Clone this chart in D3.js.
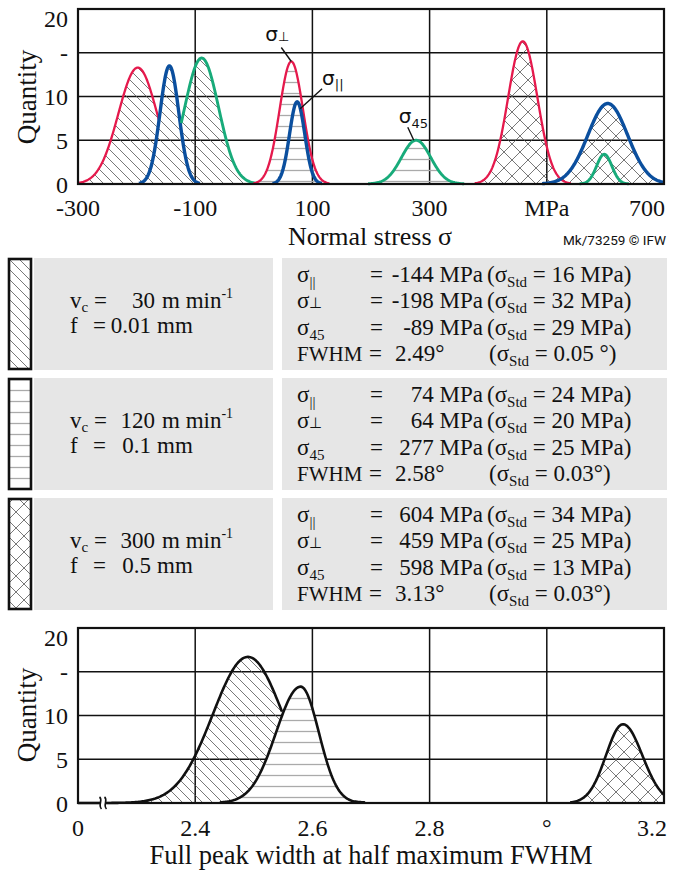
<!DOCTYPE html>
<html>
<head>
<meta charset="utf-8">
<script src="https://cdn.jsdelivr.net/npm/d3@7"></script>
<style>
  body { margin: 0; background: #fff; }
  svg { display: block; }
  text { font-family: "Liberation Serif", serif; fill: #111; }
</style>
</head>
<body>
<script>
// ---- values ----
const stressTicks = [-300, -100, 100, 300, 500, 700];
const stressTickLabels = ["-300", "-100", "100", "300", "MPa", "700"];
const quantityTicks = [0, 5, 10, 15, 20];
const quantityTickLabels = ["0", "5", "10", "-", "20"];
const fwhmTicks = [2.2, 2.4, 2.6, 2.8, 3.0, 3.2];
const fwhmTickLabels = ["0", "2.4", "2.6", "2.8", "°", "3.2"];

const cuttingSpeed = ["30", "120", "300"];
const feed = ["0.01", "0.1", "0.5"];
const hatch = ["diag", "horiz", "cross"];

// mean, standard deviation (table) per cutting condition
const sigmaPar = [-144, 74, 604];
const sigmaParStd = [16, 24, 34];
const sigmaPerp = [-198, 64, 459];
const sigmaPerpStd = [32, 20, 25];
const sigma45 = [-89, 277, 598];
const sigma45Std = [29, 25, 13];
const fwhm = [2.49, 2.58, 3.13];
const fwhmStdText = ["0.05 °", "0.03°", "0.03°"];

// drawn curves in the upper chart: spread and peak height
const sigmaParSpread = [16, 13, 34];
const sigmaParPeak = [13.5, 9.4, 9.2];
const sigmaPerpSpread = [33, 20, 25];
const sigmaPerpPeak = [13.3, 14.0, 16.3];
const sigma45Spread = [29, 25, 13];
const sigma45Peak = [14.4, 5.0, 3.4];
// drawn curves in the lower chart: left / right spread and height
const fwhmSpreadLeft = [0.06, 0.042, 0.029];
const fwhmSpreadRight = [0.06, 0.031, 0.033];
const fwhmPeak = [16.7, 13.3, 9.0];

const red = "#e5194c", blue = "#0b4f9e", green = "#18ab7a";

const svg = d3.select("body").append("svg")
  .attr("width", 683).attr("height", 870);

// hatch patterns
const defs = svg.append("defs");
defs.append("pattern").attr("id", "diag").attr("patternUnits", "userSpaceOnUse")
  .attr("width", 10).attr("height", 10)
  .append("path").attr("d", "M0,0L10,10M-2,8L2,12M8,-2L12,2")
  .attr("stroke", "#555").attr("stroke-width", 0.8);
defs.append("pattern").attr("id", "horiz").attr("patternUnits", "userSpaceOnUse")
  .attr("width", 10).attr("height", 11)
  .append("path").attr("d", "M0,5.5H10")
  .attr("stroke", "#aaa").attr("stroke-width", 1.3);
const cp = defs.append("pattern").attr("id", "cross").attr("patternUnits", "userSpaceOnUse")
  .attr("width", 16).attr("height", 16);
cp.append("path").attr("d", "M0,0L16,16M-2,14L2,18M14,-2L18,2M0,16L16,0M-2,2L2,-2M14,18L18,14")
  .attr("stroke", "#555").attr("stroke-width", 0.8);

function gauss(x, m, sl, sr, p) {
  const s = x < m ? sl : sr;
  return p * Math.exp(-0.5 * ((x - m) / s) ** 2);
}

// ---------- frame + grid helpers ----------
function grid(x, y, xTicks, yTicks) {
  const g = svg.append("g");
  const [x0, x1] = x.range(), [y0, y1] = y.range();
  g.selectAll("line.vx").data(xTicks.slice(1, -1)).join("line")
    .attr("x1", d => x(d)).attr("x2", d => x(d)).attr("y1", y0).attr("y2", y1)
    .attr("stroke", "#111").attr("stroke-width", 1.5);
  g.selectAll("line.hy").data(yTicks.slice(1, -1)).join("line")
    .attr("x1", x0).attr("x2", x1).attr("y1", d => y(d)).attr("y2", d => y(d))
    .attr("stroke", "#111").attr("stroke-width", 1.5);
}
function frameBorder(x, y) {
  const [x0, x1] = x.range(), [y0, y1] = y.range();
  svg.append("rect").attr("x", x0).attr("y", y1).attr("width", x1 - x0).attr("height", y0 - y1)
    .attr("fill", "none").attr("stroke", "#111").attr("stroke-width", 2.2);
}
function yAxisLabels(y, cy) {
  svg.append("g").selectAll("text").data(quantityTicks).join("text")
    .attr("x", 68).attr("y", (d, i) => y(d) + (i === quantityTicks.length - 1 ? 9 : 0))
    .attr("dy", "0.36em")
    .attr("text-anchor", "end").attr("font-size", 24)
    .text((d, i) => quantityTickLabels[i]);
  svg.append("text").attr("transform", `translate(36,${cy}) rotate(-90)`)
    .attr("text-anchor", "middle").attr("font-size", 27).text("Quantity");
}

// ================= top chart =================
const xS = d3.scaleLinear().domain([-300, 700]).range([78, 664]);
const yS = d3.scaleLinear().domain([0, 20]).range([184, 9]);

const groups = [0, 1, 2].map(i => [
  { m: sigmaPerp[i], s: sigmaPerpSpread[i], p: sigmaPerpPeak[i], c: red, w: 2.3 },
  { m: sigmaPar[i], s: sigmaParSpread[i], p: sigmaParPeak[i], c: blue, w: 3.4, front: true },
  { m: sigma45[i], s: sigma45Spread[i], p: sigma45Peak[i], c: green, w: 2.9 }
]);
// in the first condition the red and green curves vanish behind the blue one
const hiddenBehind = [true, false, false];

const xs = d3.range(-300, 700.5, 1);
const area = d3.area().x(d => xS(d[0])).y0(yS(0)).y1(d => yS(d[1]))
  .defined(d => d[1] > 0.03);
const line = d3.line().x(d => xS(d[0])).y(d => yS(d[1])).defined(d => d[2]);

grid(xS, yS, stressTicks, quantityTicks);

groups.forEach((cs, gi) => {
  const env = xs.map(x => [x, d3.max(cs, c => gauss(x, c.m, c.s, c.s, c.p))]);
  svg.append("path").datum(env).attr("d", area).attr("fill", `url(#${hatch[gi]})`);
});
groups.forEach((cs, gi) => {
  cs.forEach(c => {
    const pts = xs.map(x => {
      const v = gauss(x, c.m, c.s, c.s, c.p);
      const others = d3.max(cs.filter(o => o !== c), o => gauss(x, o.m, o.s, o.s, o.p));
      let on = Math.abs(x - c.m) < 3.3 * c.s;
      if (hiddenBehind[gi] && !c.front && v < others) on = false;
      return [x, v, on];
    });
    svg.append("path").datum(pts).attr("d", line)
      .attr("fill", "none").attr("stroke", c.c).attr("stroke-width", c.w)
      .attr("stroke-linejoin", "round");
  });
});
frameBorder(xS, yS);

svg.append("g").selectAll("text").data(stressTicks).join("text")
  .attr("x", (d, i) => i === stressTicks.length - 1 ? xS(d) + 1 : xS(d))
  .attr("y", 216).attr("font-size", 24)
  .attr("text-anchor", (d, i) => i === stressTicks.length - 1 ? "end" : "middle")
  .text((d, i) => stressTickLabels[i]);
svg.append("text").attr("x", 370).attr("y", 245).attr("text-anchor", "middle")
  .attr("font-size", 26).text("Normal stress σ");
svg.append("text").attr("x", 666).attr("y", 245).attr("text-anchor", "end")
  .attr("font-size", 12.5).attr("textLength", 103).attr("lengthAdjust", "spacingAndGlyphs")
  .style("font-family", "Roboto, sans-serif").text("Mk/73259 © IFW");
yAxisLabels(yS, 97);

// annotations of the three stress directions
function tag(tx, ty, x1, y1, x2, y2, base, sub, subDy) {
  svg.append("line").attr("x1", x1).attr("y1", y1).attr("x2", x2).attr("y2", y2)
    .attr("stroke", "#111").attr("stroke-width", 1.4);
  const t = svg.append("text").attr("x", tx).attr("y", ty).attr("font-size", 20)
    .style("font-family", "DejaVu Sans, sans-serif").text(base);
  t.append("tspan").attr("font-size", 13).attr("dy", subDy).text(sub);
}
const perpPk = [xS(sigmaPerp[1]), yS(sigmaPerpPeak[1])];
tag(perpPk[0] - 26, perpPk[1] - 21, perpPk[0] - 10, perpPk[1] - 14, perpPk[0], perpPk[1], "σ", "⊥", 0);
const parPt = [xS(sigmaPar[1] + 5), yS(sigmaParPeak[1] - 0.8)];
tag(parPt[0] + 22, parPt[1] - 24, parPt[0] + 22, parPt[1] - 20, parPt[0], parPt[1], "σ", "||", 4);
const s45Pk = [xS(sigma45[1] - 4), yS(sigma45Peak[1])];
tag(s45Pk[0] - 15, s45Pk[1] - 17, s45Pk[0] - 6, s45Pk[1] - 13, s45Pk[0], s45Pk[1], "σ", "45", 5);

// ================= parameter table =================
const rowTop = i => 258 + 120 * i;
const fs = 23;
[0, 1, 2].forEach(i => {
  const y0 = rowTop(i);
  svg.append("rect").attr("x", 34).attr("y", y0).attr("width", 239).attr("height", 112).attr("fill", "#e6e6e6");
  svg.append("rect").attr("x", 282).attr("y", y0).attr("width", 385).attr("height", 112).attr("fill", "#e6e6e6");
  svg.append("rect").attr("x", 9).attr("y", y0 + 1).attr("width", 22).attr("height", 110)
    .attr("fill", "#fff");
  svg.append("rect").attr("x", 9).attr("y", y0 + 1).attr("width", 22).attr("height", 110)
    .attr("fill", `url(#${hatch[i]})`).attr("stroke", "#111").attr("stroke-width", 2.6);

  // cutting conditions
  const v = svg.append("text").attr("x", 70).attr("y", y0 + 50).attr("font-size", fs).text("v");
  v.append("tspan").attr("font-size", 15).attr("dy", 4).text("c");
  v.append("tspan").attr("dy", -4).text(" =");
  svg.append("text").attr("x", 155).attr("y", y0 + 50).attr("font-size", fs).attr("text-anchor", "end").text(cuttingSpeed[i]);
  const mm = svg.append("text").attr("x", 162).attr("y", y0 + 50).attr("font-size", fs).text("m min");
  mm.append("tspan").attr("font-size", 14).attr("dy", -10).text("-1");
  svg.append("text").attr("x", 70).attr("y", y0 + 75).attr("font-size", fs).text("f");
  svg.append("text").attr("x", 93).attr("y", y0 + 75).attr("font-size", fs).text("=");
  svg.append("text").attr("x", 151).attr("y", y0 + 75).attr("font-size", fs).attr("text-anchor", "end").text(feed[i]);
  svg.append("text").attr("x", 157).attr("y", y0 + 75).attr("font-size", fs).text("mm");

  // results
  const rows = [
    ["||", `${sigmaPar[i]} MPa`, `${sigmaParStd[i]} MPa)`],
    ["⊥", `${sigmaPerp[i]} MPa`, `${sigmaPerpStd[i]} MPa)`],
    ["45", `${sigma45[i]} MPa`, `${sigma45Std[i]} MPa)`]
  ];
  const base = [24, 50, 77, 103];
  rows.forEach((r, k) => {
    const yy = y0 + base[k];
    const s = svg.append("text").attr("x", 297).attr("y", yy).attr("font-size", fs).text("σ");
    s.append("tspan").attr("font-size", 15).attr("dy", k === 1 ? 0 : 5).text(r[0]);
    svg.append("text").attr("x", 370).attr("y", yy).attr("font-size", fs).text("=");
    svg.append("text").attr("x", 483).attr("y", yy).attr("font-size", fs).attr("text-anchor", "end").text(r[1]);
    const p = svg.append("text").attr("x", 487).attr("y", yy).attr("font-size", fs).text("(σ");
    p.append("tspan").attr("font-size", 15).attr("dy", 5).text("Std");
    p.append("tspan").attr("dy", -5).text(" = " + r[2]);
  });
  const yy = y0 + base[3];
  svg.append("text").attr("x", 297).attr("y", yy).attr("font-size", 21).text("FWHM");
  svg.append("text").attr("x", 369).attr("y", yy).attr("font-size", fs).text("=");
  svg.append("text").attr("x", 395).attr("y", yy).attr("font-size", fs).text(`${fwhm[i]}°`);
  const p = svg.append("text").attr("x", 489).attr("y", yy).attr("font-size", fs).text("(σ");
  p.append("tspan").attr("font-size", 15).attr("dy", 5).text("Std");
  p.append("tspan").attr("dy", -5).text(" = " + fwhmStdText[i] + ")");
});

// ================= bottom chart =================
const xF = d3.scaleLinear().domain([2.2, 3.2]).range([78, 664]);
const yF = d3.scaleLinear().domain([0, 20]).range([803, 628]);
grid(xF, yF, fwhmTicks, quantityTicks);

const fxs = d3.range(2.2, 3.2001, 0.002);
const fCurves = [0, 1, 2].map(i => fxs.map(x => [x, gauss(x, fwhm[i], fwhmSpreadLeft[i], fwhmSpreadRight[i], fwhmPeak[i])]));
const fArea = d3.area().x(d => xF(d[0])).y0(yF(0)).y1(d => yF(d[1])).defined(d => d[1] > 0.03);
fCurves.forEach((c, i) => {
  if (i === 1) svg.append("path").datum(c).attr("d", fArea).attr("fill", "#fff");
  svg.append("path").datum(c).attr("d", fArea).attr("fill", `url(#${hatch[i]})`);
});
const fLine = d3.line().x(d => xF(d[0])).y(d => yF(d[1])).defined(d => d[2]);
fCurves.forEach((c, i) => {
  const pts = c.map((d, k) => {
    let on = d[1] > 0.06 || (i === 0 && d[0] < fwhm[0]);
    // first curve disappears behind the second one
    if (i === 0 && d[1] < fCurves[1][k][1]) on = false;
    return [d[0], d[1], on];
  });
  svg.append("path").datum(pts).attr("d", fLine).attr("fill", "none")
    .attr("stroke", "#111").attr("stroke-width", 2.6).attr("stroke-linejoin", "round");
});
frameBorder(xF, yF);

// axis break mark
const bx = xF(2.2) + 25, by = yF(0);
svg.append("rect").attr("x", bx - 3).attr("y", by - 3).attr("width", 6).attr("height", 6).attr("fill", "#fff");
[-2.5, 2.5].forEach(dx => {
  svg.append("path")
    .attr("d", `M${bx + dx - 1},${by - 6} C${bx + dx + 3},${by - 3} ${bx + dx - 3},${by + 2} ${bx + dx + 1},${by + 6}`)
    .attr("fill", "none").attr("stroke", "#111").attr("stroke-width", 1.6);
});

svg.append("g").selectAll("text").data(fwhmTicks).join("text")
  .attr("x", (d, i) => i === fwhmTicks.length - 1 ? xF(d) + 3 : xF(d))
  .attr("y", 836).attr("font-size", 24)
  .attr("text-anchor", (d, i) => i === fwhmTicks.length - 1 ? "end" : "middle")
  .text((d, i) => fwhmTickLabels[i]);
svg.append("text").attr("x", 371).attr("y", 864).attr("text-anchor", "middle")
  .attr("font-size", 26.5).text("Full peak width at half maximum FWHM");
yAxisLabels(yF, 715);
</script>
</body>
</html>
